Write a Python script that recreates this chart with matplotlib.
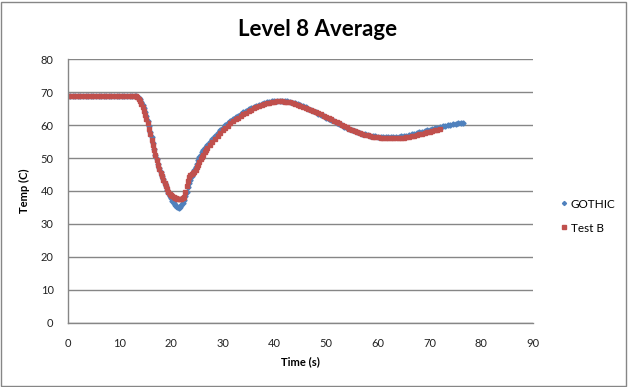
import matplotlib
matplotlib.use('Agg')
import matplotlib.pyplot as plt
from matplotlib.patches import Rectangle

# ------------------------------ Data ------------------------------------------
# Sampling: 0.5 s on the plateau, 0.25 s through the dip (13-27 s), 0.5 s after.
gothic_t = ([i * 0.5 for i in range(26)]            # 0 .. 12.5
            + [13 + i * 0.25 for i in range(57)]    # 13 .. 27
            + [27.5 + i * 0.5 for i in range(99)])  # 27.5 .. 76.5
gothic_temp = (
    [68.8] * 26
    + [68.8, 68.7, 68.6, 68.3, 67.8, 67.1, 66.2, 65.2,     # 13-14.75
       64.0, 62.7, 61.3, 59.7, 58.0, 56.3, 54.6, 52.8,     # 15-16.75
       51.0, 49.6, 48.2, 47.0, 45.8, 44.6, 43.5, 42.4,     # 17-18.75
       41.4, 40.4, 39.5, 38.6, 37.8, 37.1, 36.4, 35.8,     # 19-20.75
       35.3, 35.0, 34.9, 35.2, 35.7, 36.4, 37.2, 38.4,     # 21-22.75
       39.8, 41.1, 42.3, 43.4, 44.5, 45.4, 46.3, 47.3,     # 23-24.75
       48.3, 49.3, 50.2, 51.0, 51.8, 52.4, 53.0, 53.5,     # 25-26.75
       54.0]                                               # 27
    + [55.0, 55.9, 56.8, 57.6, 58.4,                       # 27.5-29.5
       59.2, 59.9, 60.6, 61.2, 61.8, 62.4, 62.9, 63.4, 63.9, 64.4,   # 30-34.5
       64.8, 65.2, 65.6, 65.9, 66.2, 66.5, 66.7, 66.9, 67.1, 67.2,   # 35-39.5
       67.3, 67.4, 67.4, 67.4, 67.3, 67.2, 67.0, 66.8, 66.6, 66.3,   # 40-44.5
       66.0, 65.7, 65.4, 65.0, 64.7, 64.3, 63.9, 63.5, 63.1, 62.7,   # 45-49.5
       62.3, 61.9, 61.5, 61.1, 60.7, 60.3, 59.9, 59.5, 59.2, 58.8,   # 50-54.5
       58.5, 58.2, 57.9, 57.6, 57.4, 57.2, 57.0, 56.8, 56.7, 56.6,   # 55-59.5
       56.5, 56.4, 56.4, 56.3, 56.3, 56.3, 56.4, 56.4, 56.5, 56.6,   # 60-64.5
       56.7, 56.8, 57.0, 57.2, 57.4, 57.6, 57.8, 58.0, 58.2, 58.4,   # 65-69.5
       58.6, 58.8, 59.0, 59.2, 59.4, 59.6, 59.8, 59.9, 60.1, 60.2,   # 70-74.5
       60.4, 60.5, 60.6, 60.7]                                       # 75-76.5
)

testb_t = ([i * 0.5 for i in range(26)]             # 0 .. 12.5
           + [13 + i * 0.25 for i in range(57)]     # 13 .. 27
           + [27.5 + i * 0.5 for i in range(90)])   # 27.5 .. 72
testb_temp = (
    [68.9] * 26
    + [68.9, 68.8, 68.5, 68.0, 67.2, 66.4, 65.5, 64.4,     # 13-14.75
       63.2, 61.9, 60.5, 58.9, 57.2, 55.6, 54.0, 52.4,     # 15-16.75
       50.8, 49.4, 48.0, 46.8, 45.6, 44.5, 43.4, 42.4,     # 17-18.75
       41.4, 40.6, 39.8, 39.2, 38.8, 38.5, 38.3, 38.0,     # 19-20.75
       37.8, 37.6, 37.5, 37.5, 37.6, 37.9, 38.3, 39.8,     # 21-22.75
       41.5, 43.0, 44.2, 44.8, 45.2, 45.5, 45.8, 46.5,     # 23-24.75
       47.2, 48.0, 48.8, 49.6, 50.3, 51.0, 51.7, 52.3,     # 25-26.75
       52.9]                                               # 27
    + [54.0, 55.0, 55.9, 56.8, 57.6,                       # 27.5-29.5
       58.4, 59.1, 59.8, 60.5, 61.1, 61.7, 62.3, 62.8, 63.3, 63.8,   # 30-34.5
       64.3, 64.7, 65.1, 65.5, 65.8, 66.1, 66.4, 66.6, 66.8, 67.0,   # 35-39.5
       67.1, 67.2, 67.2, 67.2, 67.1, 67.0, 66.9, 66.7, 66.5, 66.2,   # 40-44.5
       65.9, 65.6, 65.3, 65.0, 64.7, 64.4, 64.0, 63.7, 63.3, 62.9,   # 45-49.5
       62.5, 62.1, 61.7, 61.3, 60.9, 60.5, 60.1, 59.7, 59.3, 58.9,   # 50-54.5
       58.6, 58.2, 57.9, 57.6, 57.3, 57.1, 56.9, 56.7, 56.5, 56.4,   # 55-59.5
       56.3, 56.2, 56.1, 56.0, 56.0, 56.0, 56.0, 56.0, 56.0, 56.1,   # 60-64.5
       56.2, 56.3, 56.4, 56.6, 56.8, 57.0, 57.2, 57.4, 57.6, 57.8,   # 65-69.5
       58.0, 58.2, 58.4, 58.6, 58.8]                                 # 70-72
)

x_ticks = [0, 10, 20, 30, 40, 50, 60, 70, 80, 90]
y_ticks = [0, 10, 20, 30, 40, 50, 60, 70, 80]

# ------------------------------ Figure ----------------------------------------
plt.rcParams['font.family'] = ['Lato', 'DejaVu Sans']
grey = '#868686'

fig = plt.figure(figsize=(6.28, 3.87), dpi=100)
ax = fig.add_axes([0.1075, 0.166, 0.7415, 0.681])

ax.plot(gothic_t, gothic_temp, linestyle='none', marker='D', markersize=2.6,
        color='#4F81BD', label='GOTHIC')
ax.plot(testb_t, testb_temp, linestyle='none', marker='s', markersize=3.1,
        color='#C0504D', label='Test B')

ax.set_xlim(0, 90)
ax.set_ylim(0, 80)
ax.set_xticks(x_ticks)
ax.set_yticks(y_ticks)
ax.tick_params(length=0, labelsize=8, colors='#222222')
ax.tick_params(axis='x', pad=11)
ax.tick_params(axis='y', pad=10)
ax.yaxis.grid(True, color=grey, linewidth=1)
ax.set_axisbelow(True)
for side in ('top', 'right'):
    ax.spines[side].set_visible(False)
for side in ('left', 'bottom'):
    ax.spines[side].set_color(grey)
    ax.spines[side].set_linewidth(1)

ax.set_xlabel('Time (s)', fontsize=8, fontweight='bold', labelpad=5)
ax.set_ylabel('Temp (C)', fontsize=8, fontweight='bold', labelpad=8)
fig.text(0.505, 0.925, 'Level 8 Average', ha='center', va='center',
         fontsize=16, fontweight='bold')

ax.legend(loc='center left', bbox_to_anchor=(1.03, 0.405), frameon=False,
          fontsize=8.5, handletextpad=0.1, labelspacing=1.1,
          handlelength=1.0, markerscale=0.8)

fig.patches.append(Rectangle((0.002, 0.003), 0.995, 0.993, transform=fig.transFigure,
                             fill=False, edgecolor=grey, linewidth=1))

fig.savefig('out.png', dpi=100)
